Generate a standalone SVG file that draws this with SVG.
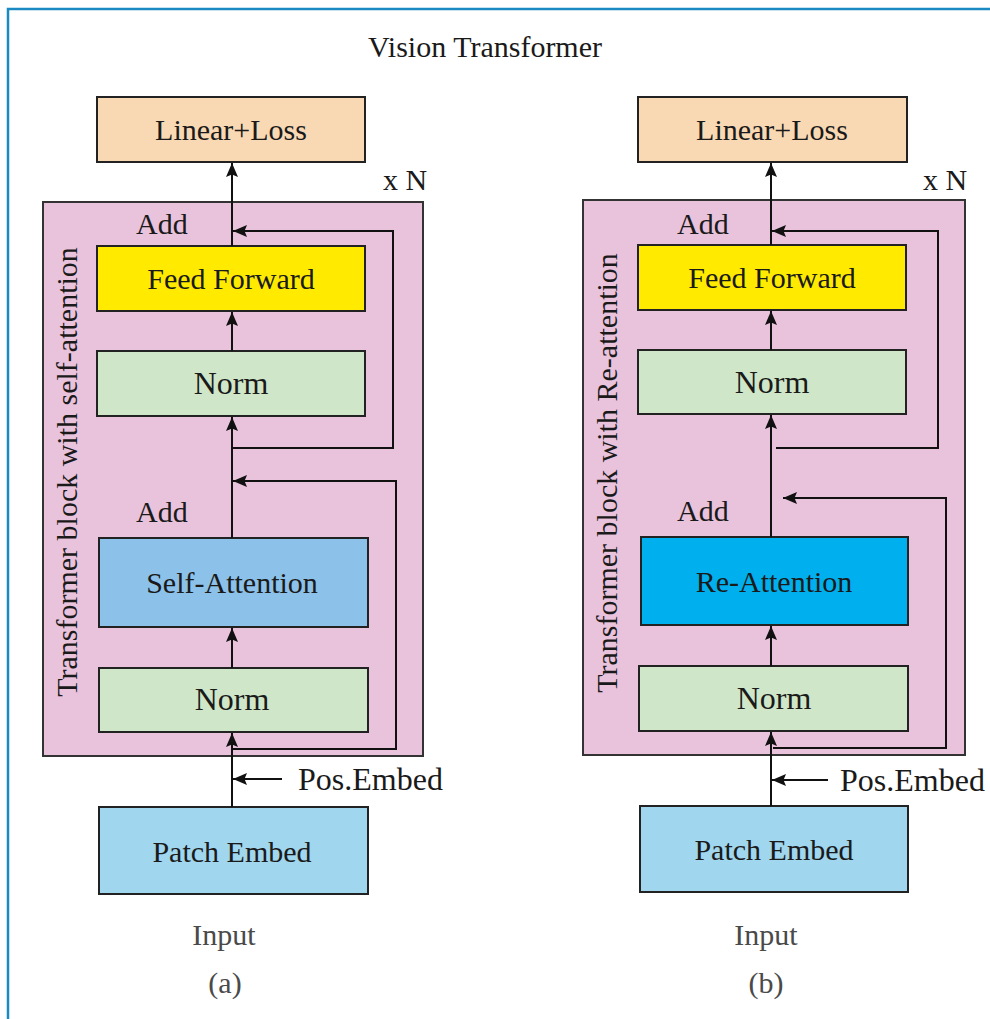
<svg xmlns="http://www.w3.org/2000/svg" width="990" height="1019" viewBox="0 0 990 1019">
  <style>
    text { font-family: "Liberation Serif", "Times New Roman", serif; fill: #1a1a1a; }
    .lbl { font-size: 30px; text-anchor: middle; }
    .lbl-n { font-size: 32px; text-anchor: middle; }
    .side { font-size: 30px; }
    .pos { font-size: 32px; }
    .cap { font-size: 30px; text-anchor: middle; fill: #4a4a4a; }
    .box { stroke: #222; stroke-width: 2; }
    .block { fill: #e9c2dc; stroke: #333; stroke-width: 2; }
    .conn { fill: none; stroke: #111; stroke-width: 2; }
    .loss { fill: #f9d8b4; }
    .ff { fill: #ffea00; }
    .norm { fill: #cfe6c8; }
    .sa { fill: #8cc2e9; }
    .ra { fill: #00b0ee; }
    .pe { fill: #a0d6ee; }
  </style>
  <defs>
    <marker id="arrow" viewBox="0 0 14 12" refX="14" refY="6" markerWidth="14" markerHeight="12" markerUnits="userSpaceOnUse" orient="auto">
      <path d="M0,0 L14,6 L0,12 L2.5,6 z" fill="#111"/>
    </marker>
  </defs>

  <rect width="990" height="1019" fill="#fff"/>
  <!-- frame -->
  <path d="M8,1019 V9 H990" fill="none" stroke="#1b8ac3" stroke-width="2.5"/>

  <text x="485" y="57" style="font-size:30px" text-anchor="middle">Vision Transformer</text>

  <!-- (a) standard transformer block -->
  <g id="block-a">
    <rect class="block" x="43" y="202" width="380" height="554"/>
    <text class="side" transform="translate(77,472) rotate(-90)" text-anchor="middle">Transformer block with self-attention</text>
    <text class="side" x="383" y="190">x N</text>
  </g>
  <g id="loss-a">
    <rect class="box loss" x="97" y="97" width="268" height="65"/>
    <text class="lbl" x="231" y="140">Linear+Loss</text>
  </g>
  <g id="ff-a">
    <rect class="box ff" x="97" y="246" width="268" height="65"/>
    <text class="lbl" x="231" y="289">Feed Forward</text>
  </g>
  <g id="norm2-a">
    <rect class="box norm" x="97" y="351" width="268" height="65"/>
    <text class="lbl-n" x="231" y="394">Norm</text>
  </g>
  <g id="attn-a">
    <rect class="box sa" x="99" y="538" width="269" height="89"/>
    <text class="lbl" x="232" y="593">Self-Attention</text>
  </g>
  <g id="norm1-a">
    <rect class="box norm" x="99" y="668" width="269" height="64"/>
    <text class="lbl-n" x="232" y="710">Norm</text>
  </g>
  <g id="patch-a">
    <rect class="box pe" x="99" y="807" width="269" height="87"/>
    <text class="lbl" x="232" y="862">Patch Embed</text>
  </g>
  <g id="labels-a">
    <text class="side" x="136" y="234">Add</text>
    <text class="side" x="136" y="522">Add</text>
    <text class="pos" x="298" y="790">Pos.Embed</text>
    <text class="cap" x="224" y="945">Input</text>
    <text class="cap" x="225" y="993">(a)</text>
  </g>

  <!-- (b) re-attention block -->
  <g id="block-b">
    <rect class="block" x="583" y="200" width="382" height="555"/>
    <text class="side" transform="translate(617,473) rotate(-90)" text-anchor="middle">Transformer block with Re-attention</text>
    <text class="side" x="923" y="190">x N</text>
  </g>
  <g id="loss-b">
    <rect class="box loss" x="638" y="97" width="269" height="65"/>
    <text class="lbl" x="772" y="140">Linear+Loss</text>
  </g>
  <g id="ff-b">
    <rect class="box ff" x="638" y="245" width="268" height="65"/>
    <text class="lbl" x="772" y="288">Feed Forward</text>
  </g>
  <g id="norm2-b">
    <rect class="box norm" x="638" y="350" width="268" height="64"/>
    <text class="lbl-n" x="772" y="393">Norm</text>
  </g>
  <g id="attn-b">
    <rect class="box ra" x="641" y="537" width="267" height="88"/>
    <text class="lbl" x="774" y="592">Re-Attention</text>
  </g>
  <g id="norm1-b">
    <rect class="box norm" x="639" y="666" width="269" height="65"/>
    <text class="lbl-n" x="774" y="709">Norm</text>
  </g>
  <g id="patch-b">
    <rect class="box pe" x="640" y="806" width="268" height="86"/>
    <text class="lbl" x="774" y="860">Patch Embed</text>
  </g>
  <g id="labels-b">
    <text class="side" x="677" y="234">Add</text>
    <text class="side" x="677" y="521">Add</text>
    <text class="pos" x="840" y="791">Pos.Embed</text>
    <text class="cap" x="766" y="945">Input</text>
    <text class="cap" x="766" y="993">(b)</text>
  </g>

  <g id="connectors">
    <!-- (a) main path -->
    <path class="conn" d="M232,807 V733" marker-end="url(#arrow)"/>
    <path class="conn" d="M232,668 V628" marker-end="url(#arrow)"/>
    <path class="conn" d="M232,538 V417" marker-end="url(#arrow)"/>
    <path class="conn" d="M232,351 V312" marker-end="url(#arrow)"/>
    <path class="conn" d="M232,246 V163" marker-end="url(#arrow)"/>
    <!-- (a) residuals -->
    <path class="conn" d="M232,448 H393 V231 H233" marker-end="url(#arrow)"/>
    <path class="conn" d="M233,749 H396 V481 H233" marker-end="url(#arrow)"/>
    <path class="conn" d="M282,779 H233" marker-end="url(#arrow)"/>

    <!-- (b) main path -->
    <path class="conn" d="M771,806 V732" marker-end="url(#arrow)"/>
    <path class="conn" d="M771,666 V626" marker-end="url(#arrow)"/>
    <path class="conn" d="M771,537 V415" marker-end="url(#arrow)"/>
    <path class="conn" d="M771,350 V311" marker-end="url(#arrow)"/>
    <path class="conn" d="M771,245 V163" marker-end="url(#arrow)"/>
    <!-- (b) residuals -->
    <path class="conn" d="M776,448 H938 V231 H772" marker-end="url(#arrow)"/>
    <path class="conn" d="M773,748 H946 V498 H783" marker-end="url(#arrow)"/>
    <path class="conn" d="M828,780 H772" marker-end="url(#arrow)"/>
  </g>
</svg>
